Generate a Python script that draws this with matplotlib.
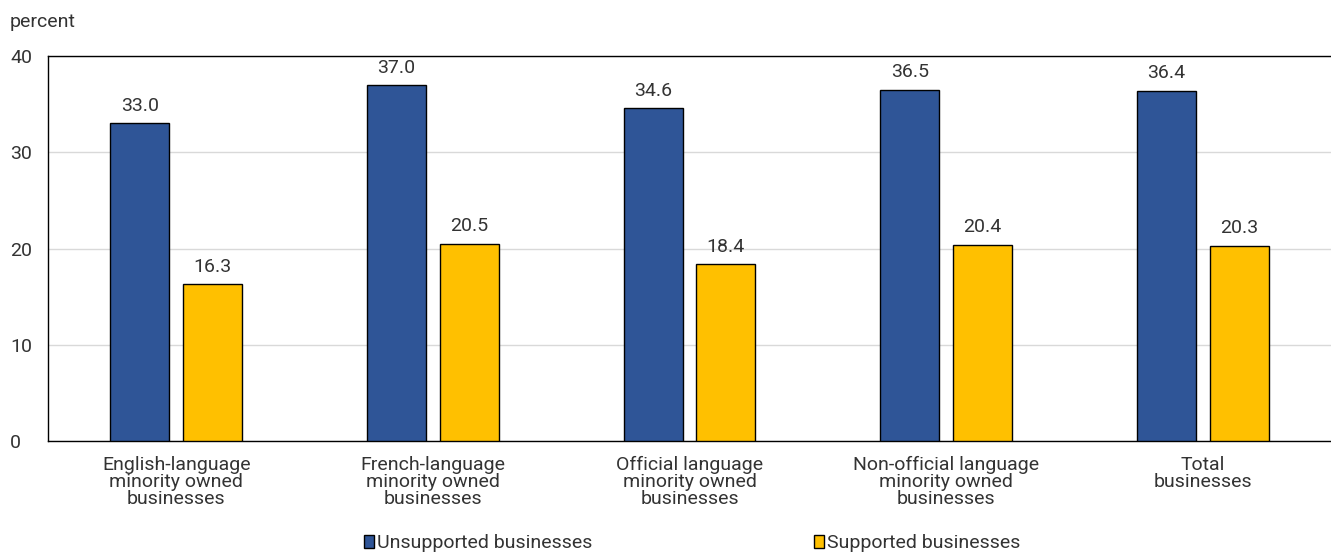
import numpy as np
import matplotlib.pyplot as plt
from matplotlib.patches import Patch

plt.rcParams['font.family'] = ['Roboto', 'DejaVu Sans']

categorias = ['English-language\nminority owned\nbusinesses',
              'French-language\nminority owned\nbusinesses',
              'Official language\nminority owned\nbusinesses',
              'Non-official language\nminority owned\nbusinesses',
              'Total\nbusinesses']
no_apoyadas = [33.0, 37.0, 34.6, 36.5, 36.4]
apoyadas = [16.3, 20.5, 18.4, 20.4, 20.3]

azul = '#2f5597'
amarillo = '#ffc000'
gris = '#333333'
tam = 14

fig = plt.figure(figsize=(13.31, 5.54), dpi=100)
ax = fig.add_axes([48/1331, 1-441/554, 1283/1331, 385/554])

x = np.arange(len(categorias))
ancho = 0.23
desp = 0.142
ax.bar(x-desp, no_apoyadas, width=ancho, color=azul, edgecolor='black', linewidth=1, zorder=3)
ax.bar(x+desp, apoyadas, width=ancho, color=amarillo, edgecolor='black', linewidth=1, zorder=3)

# etiquetas de valor sobre cada barra
for i in range(len(x)):
    ax.annotate(f'{no_apoyadas[i]:.1f}', (x[i]-desp, no_apoyadas[i]), xytext=(0, 6),
                textcoords='offset points', ha='center', va='bottom', fontsize=tam, color=gris)
    ax.annotate(f'{apoyadas[i]:.1f}', (x[i]+desp, apoyadas[i]), xytext=(0, 6),
                textcoords='offset points', ha='center', va='bottom', fontsize=tam, color=gris)

ax.set_xlim(-0.5, len(categorias)-0.5)
ax.set_ylim(0, 40)
ax.set_yticks([0, 10, 20, 30, 40])
ax.yaxis.grid(True, color='#d9d9d9', linewidth=1, zorder=0)
ax.tick_params(axis='y', length=0, pad=27.4, labelsize=tam, labelcolor=gris)
ax.tick_params(axis='x', length=0, pad=11, labelsize=tam, labelcolor=gris)
for t in ax.get_yticklabels():
    t.set_horizontalalignment('left')
ax.set_xticks(x)
ax.set_xticklabels(categorias, linespacing=0.92)
for lado in ['left', 'top', 'bottom']:
    ax.spines[lado].set_color('black')
    ax.spines[lado].set_linewidth(1)
ax.spines['right'].set_visible(False)

fig.text(10/1331, 1-22/554, 'percent', fontsize=tam, color=gris, va='center')

manejadores = [Patch(facecolor=azul, edgecolor='black', label='Unsupported businesses'),
               Patch(facecolor=amarillo, edgecolor='black', label='Supported businesses')]
fig.legend(handles=manejadores, loc='center', bbox_to_anchor=(0.52, 1-543/554), ncol=2,
           frameon=False, fontsize=tam, handlelength=0.52, handleheight=0.67, handletextpad=0.15,
           columnspacing=11.4, labelcolor=gris, borderpad=0, borderaxespad=0)

fig.savefig('out.png', dpi=100)
